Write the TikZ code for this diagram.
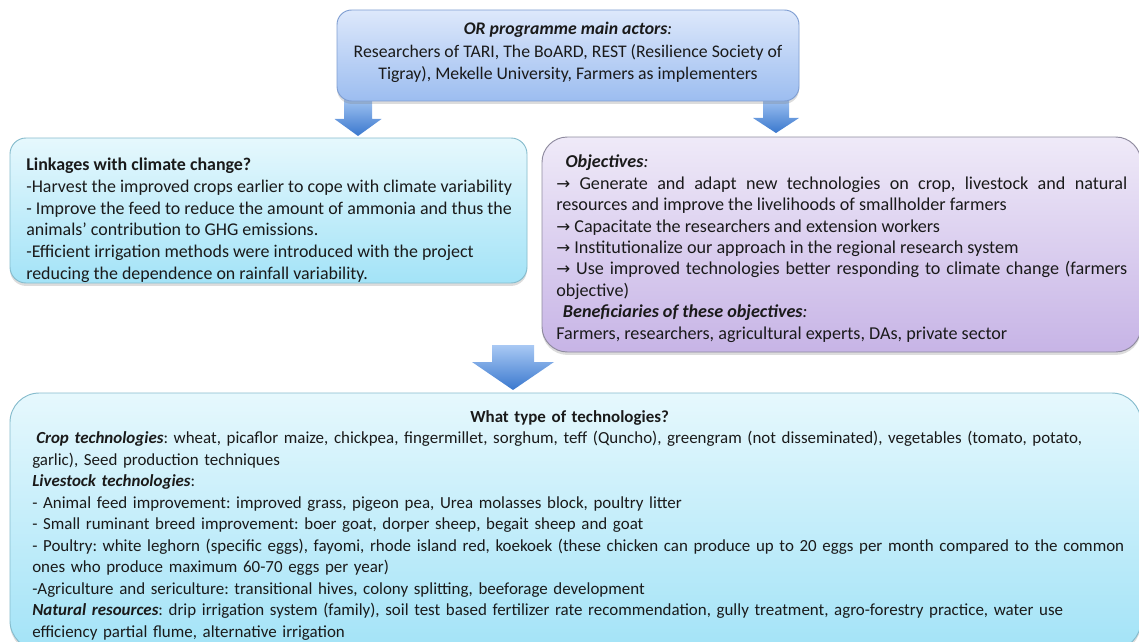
\documentclass[tikz,border=0pt]{standalone}
\usepackage{fontspec}
\setmainfont{Carlito}
\newfontfamily\symfont{DejaVu Sans}
\usetikzlibrary{shadows}

\definecolor{actorTop}{HTML}{DDE8FB}
\definecolor{actorBot}{HTML}{9CBDF0}
\definecolor{actorLine}{HTML}{7F9ED2}
\definecolor{cyanTop}{HTML}{E6F8FD}
\definecolor{cyanBot}{HTML}{A3E3F7}
\definecolor{cyanLine}{HTML}{86BCCD}
\definecolor{lavTop}{HTML}{EFEAF8}
\definecolor{lavBot}{HTML}{C7B4E6}
\definecolor{lavLine}{HTML}{8E8A9E}
\definecolor{arrTop}{HTML}{A9C9F4}
\definecolor{arrBot}{HTML}{3A78CE}
\definecolor{ink}{HTML}{1A1A1A}

\newcommand\arr{{\symfont\fontsize{12.5pt}{16pt}\selectfont →}}

% block arrow: centre x, shaft top, head top, tip y, half shaft width, half head width
\newcommand\blockarrow[6]{%
  \path[blockarrow] (#1-#5,#2) -- (#1+#5,#2) -- (#1+#5,#3) -- (#1+#6,#3)
    -- (#1,#4) -- (#1-#6,#3) -- (#1-#5,#3) -- cycle;}

\begin{document}
\frenchspacing
\hyphenpenalty=10000
\begin{tikzpicture}[x=0.75pt,y=-0.75pt,
  textfont/.style={font=\fontsize{13.45pt}{16.25pt}\selectfont, text=ink},
  panel/.style={draw, line width=0.7pt, inner sep=0pt,
    drop shadow={shadow xshift=0pt, shadow yshift=-2.2pt, opacity=0.28}},
  actorbox/.style={panel, rounded corners=11pt, draw=actorLine,
    top color=actorTop, bottom color=actorBot},
  cyanbox/.style={panel, rounded corners=12pt, draw=cyanLine,
    top color=cyanTop, bottom color=cyanBot},
  bigcyanbox/.style={panel, rounded corners=22pt, draw=cyanLine,
    top color=cyanTop, bottom color=cyanBot},
  lavbox/.style={panel, rounded corners=19pt, draw=lavLine,
    top color=lavTop, bottom color=lavBot},
  blockarrow/.style={top color=arrTop, bottom color=arrBot},
  boxtext/.style={inner sep=0pt, anchor=north west}
]
\useasboundingbox (0,0) rectangle (1139,642);

% block arrows between the panels
\blockarrow{358}{96}{119}{136}{14}{23.5}
\blockarrow{776}{96}{118}{133}{13}{23}
\blockarrow{513}{345}{362}{390}{21}{41}

% panels
\node[actorbox, minimum width=346.5pt, minimum height=68.25pt] (actors) at (568,55.5) {};
\node[cyanbox, minimum width=387.75pt, minimum height=108.75pt] (links) at (268.5,210.5) {};
\node[lavbox, minimum width=449.25pt, minimum height=161.25pt] (objectives) at (841.5,244.5) {};
\node[bigcyanbox, minimum width=848.25pt, minimum height=192.75pt] (techs) at (575.5,521.5) {};

% panel texts
\node[textfont, font=\fontsize{13.3pt}{16.9pt}\selectfont, inner sep=0pt, align=center] (actorsText) at (568,52.5)
  {\textbf{\textit{OR programme main actors}}\textit{:}\\
   Researchers of TARI, The BoARD, REST (Resilience Society of\\
   Tigray), Mekelle University, Farmers as implementers};

\node[boxtext, textfont, align=left] (linksText) at (26,158)
  {\textbf{Linkages with climate change?}\\
   -Harvest the improved crops earlier to cope with climate variability\\
   - Improve the feed to reduce the amount of ammonia and thus the\\
   animals’ contribution to GHG emissions.\\
   -Efficient irrigation methods were introduced with the project\\
   reducing the dependence on rainfall variability.};

\node[boxtext, textfont, font=\fontsize{13.6pt}{16.05pt}\selectfont, text width=428.25pt, align=justify] (objectivesText) at (556,155)
  {\parindent=0pt
   \hspace*{7pt}\textbf{\textit{Objectives}}\textit{:}\par
   \arr\ Generate and adapt new technologies on crop, livestock and natural\linebreak
   resources and improve the livelihoods of smallholder farmers\par
   \arr\ Capacitate the researchers and extension workers\par
   \arr\ Institutionalize our approach in the regional research system\par
   \arr\ Use improved technologies better responding to climate change (farmers\linebreak
   objective)\par
   \hspace*{5pt}\textbf{\textit{Beneficiaries of these objectives}}\textit{:}\par
   Farmers, researchers, agricultural experts, DAs, private sector};

\node[boxtext, textfont, font=\fontsize{12.7pt}{16.15pt}\selectfont, text width=843pt, align=left] (techsText) at (32,410)
  {{\centering\hspace*{-37pt}\textbf{What type of technologies?}\par}
   \hspace*{3pt}\textbf{\textit{Crop technologies}}: wheat, picaflor maize, chickpea, fingermillet, sorghum, teff (Quncho), greengram (not disseminated), vegetables (tomato, potato,\\
   garlic), Seed production techniques\\
   \textbf{\textit{Livestock technologies}}:\\
   - Animal feed improvement: improved grass, pigeon pea, Urea molasses block, poultry litter\\
   - Small ruminant breed improvement: boer goat, dorper sheep, begait sheep and goat\\
   - Poultry: white leghorn (specific eggs), fayomi, rhode island red, koekoek (these chicken can produce up to 20 eggs per month compared to the common\\
   ones who produce maximum 60-70 eggs per year)\\
   -Agriculture and sericulture: transitional hives, colony splitting, beeforage development\\
   \textbf{\textit{Natural resources}}: drip irrigation system (family), soil test based fertilizer rate recommendation, gully treatment, agro-forestry practice, water use\\
   efficiency partial flume, alternative irrigation};
\end{tikzpicture}
\end{document}
